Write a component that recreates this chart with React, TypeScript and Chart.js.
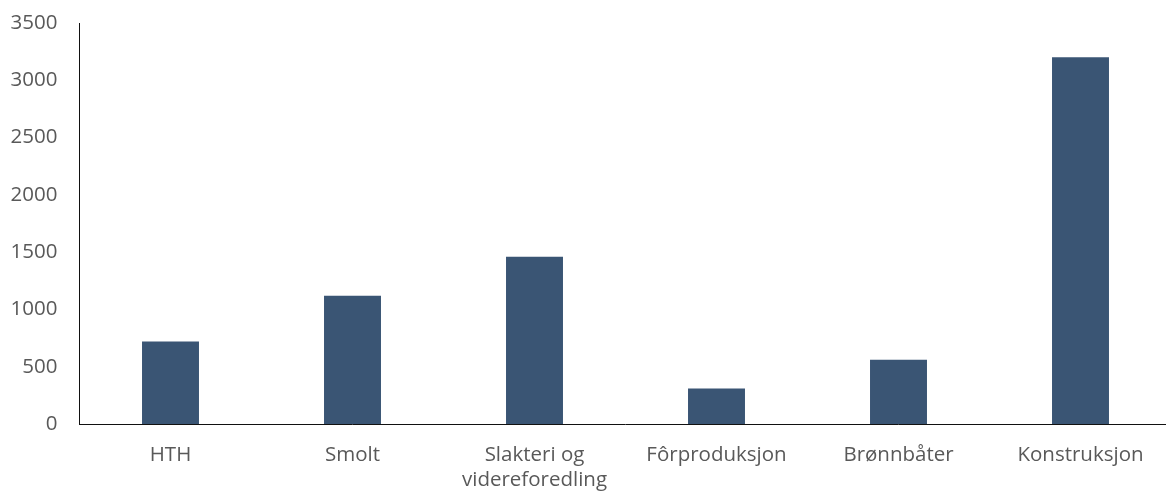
import React, { useEffect, useRef } from "react";
import { Chart, registerables } from "chart.js";

Chart.register(...registerables);

const categories: (string | string[])[] = [
  "HTH",
  "Smolt",
  ["Slakteri og", "videreforedling"],
  "Fôrproduksjon",
  "Brønnbåter",
  "Konstruksjon",
];
const values: number[] = [720, 1120, 1460, 310, 560, 3200];
const yMax = 3500;
const yStep = 500;

export default function App() {
  const ref = useRef<HTMLCanvasElement | null>(null);

  useEffect(() => {
    if (!ref.current) return;
    const font = { family: "'Open Sans', sans-serif", size: 20.5 };
    const chart = new Chart(ref.current, {
      type: "bar",
      data: {
        labels: categories,
        datasets: [
          {
            data: values,
            backgroundColor: "#3A5574",
            borderWidth: 0,
            barPercentage: 0.313,
            categoryPercentage: 1,
          },
        ],
      },
      options: {
        animation: false,
        responsive: false,
        layout: { padding: { left: 0, right: 28.5, top: 23, bottom: 0 } },
        plugins: { legend: { display: false }, tooltip: { enabled: false } },
        scales: {
          x: {
            grid: { display: false, drawTicks: false },
            border: { display: true, color: "#111111", width: 1 },
            ticks: {
              color: "#595959",
              font,
              padding: 19,
              maxRotation: 0,
              autoSkip: false,
            },
            afterFit: (s: any) => {
              s.height = 71;
              s.paddingLeft = 0;
              s.paddingRight = 0;
            },
          },
          y: {
            min: 0,
            max: yMax,
            grid: { display: false, drawTicks: false },
            border: { display: true, color: "#111111", width: 1 },
            ticks: {
              stepSize: yStep,
              color: "#595959",
              font,
              padding: 22,
              callback: (v: any) => String(v),
            },
            afterFit: (s: any) => {
              s.width = 79.5;
              s.paddingTop = 0;
              s.paddingBottom = 0;
            },
          },
        },
      },
    });
    return () => chart.destroy();
  }, []);

  return (
    <div
      style={{
        position: "fixed",
        left: 0,
        top: 0,
        width: 1166,
        height: 495,
        overflow: "hidden",
        background: "#ffffff",
      }}
    >
      <canvas ref={ref} width={1200} height={495} style={{ display: "block" }} />
    </div>
  );
}
